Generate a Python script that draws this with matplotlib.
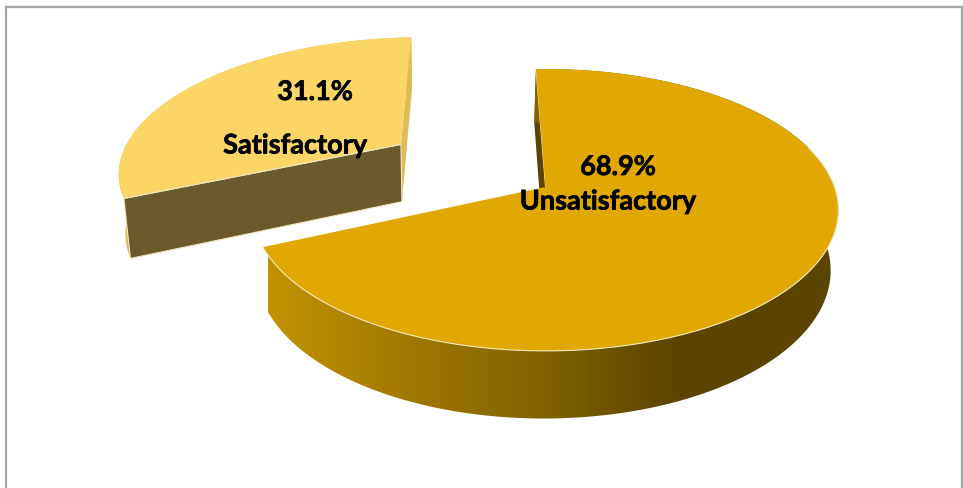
import numpy as np
import matplotlib
matplotlib.use("Agg")
import matplotlib.pyplot as plt
import matplotlib.patheffects as pe
from matplotlib.colors import LinearSegmentedColormap
from matplotlib.patches import Polygon

plt.rcParams['font.family'] = ['Lato', 'DejaVu Sans']

# Pie data
categories = ["Unsatisfactory", "Satisfactory"]
percentages = [68.9, 31.1]
label_pos = [((618, 168), (608, 202.5)), ((315, 93), (295, 146.5))]

start_angle = -2.2   # degrees clockwise from the back of the disc
explode = [0.0, 0.62]

# Perspective camera for the tilted disc
CX, CY = 545.5, 188.0
RX, RY = 289.0, 137.2
PERSP = 0.163


def project(u, v):
    d = 1 + PERSP * v
    return CX + RX * u / d, CY - RY * v / d


def drop(x, y):
    # top surface -> bottom surface of the slab
    return 450 + (x - 450) * 0.98, y * 1.05 + 50


def slice_shape(a0, a1, offset):
    ang = np.radians(np.linspace(a0, a1, 200))
    ou, ov = offset
    arc = project(ou + np.sin(ang), ov + np.cos(ang))
    apex = project(ou, ov)
    return np.array(apex), np.column_stack(arc)


def poly(pts, **kw):
    p = Polygon(pts, closed=True, **kw)
    ax.add_patch(p)
    return p


fig = plt.figure(figsize=(9.63, 4.89), dpi=100)
ax = fig.add_axes([0, 0, 1, 1])
ax.set_xlim(0, 963)
ax.set_ylim(489, 0)
ax.axis("off")

# chart frame
ax.plot([6, 6, 962, 962], [489, 8, 8, 489], color="#A6A6A6", lw=1.6, solid_joinstyle="miter")

edge = "#F3E7BE"
wall_grad = LinearSegmentedColormap.from_list(
    "wall", [(0, "#C29200"), (0.485, "#7F6000"), (0.71, "#5A4400"), (1, "#5A4400")])

# work out the wedge angles
angles = [start_angle]
for p in percentages:
    angles.append(angles[-1] + p / sum(percentages) * 360)

# satisfactory wedge goes first, the big one sits in front of it
a0, a1 = angles[1], angles[2]
mid = np.radians((a0 + a1) / 2)
off = (explode[1] * np.sin(mid), explode[1] * np.cos(mid))
apex, arc = slice_shape(a0, a1, off)
lx, ly = drop(arc[:, 0], arc[:, 1])
low_arc = np.column_stack([lx, ly])
low_apex = np.array(drop(*apex))

poly(np.vstack([arc, low_arc[::-1]]), fc="#DDBB55", ec="none")
poly([arc[-1], low_arc[-1], low_apex, apex], fc="#DDBB55", ec="none")
poly([apex, low_apex, low_arc[0], arc[0]], fc="#6B5A2C", ec=edge, lw=0.8)
poly(np.vstack([[apex], arc]), fc="#FBD667", ec="none")
ax.plot([apex[0], arc[0, 0]], [apex[1], arc[0, 1]], color=edge, lw=0.8)

# unsatisfactory wedge
a0, a1 = angles[0], angles[1]
apex, arc = slice_shape(a0, a1, (0, 0))
lx, ly = drop(arc[:, 0], arc[:, 1])
low_arc = np.column_stack([lx, ly])
low_apex = np.array(drop(*apex))

poly([arc[0], low_arc[0], low_apex, apex], fc="#5A4400", ec="none")
ax.plot([arc[0, 0], apex[0]], [arc[0, 1], apex[1]], color=edge, lw=0.7)

# outer wall with left-to-right shading
wall = poly(np.vstack([arc, low_arc[::-1]]), fc="none", ec="none")
grad = np.linspace(0, 1, 256).reshape(1, -1)
im = ax.imshow(grad, cmap=wall_grad, extent=[268, 850, 489, 0], aspect="auto", zorder=1.5)
im.set_clip_path(wall)
ax.set_xlim(0, 963)
ax.set_ylim(489, 0)

top = poly(np.vstack([[apex], arc]), fc="#E0A800", ec="none", zorder=2)
ax.plot(arc[60:, 0], arc[60:, 1], color=edge, lw=0.8, zorder=2.1)

# data labels, thickened a little with a thin stroke
heavy = [pe.withStroke(linewidth=0.5, foreground="black")]
for name, pct, (p_xy, n_xy) in zip(categories, percentages, label_pos):
    ax.text(*p_xy, f"{pct}%", ha="center", va="center", fontsize=19.5,
            fontweight="bold", color="black", zorder=5, path_effects=heavy)
    ax.text(*n_xy, name, ha="center", va="center", fontsize=19.5,
            fontweight="bold", color="black", zorder=5, path_effects=heavy)

fig.savefig("out.png", dpi=100, facecolor="white")
